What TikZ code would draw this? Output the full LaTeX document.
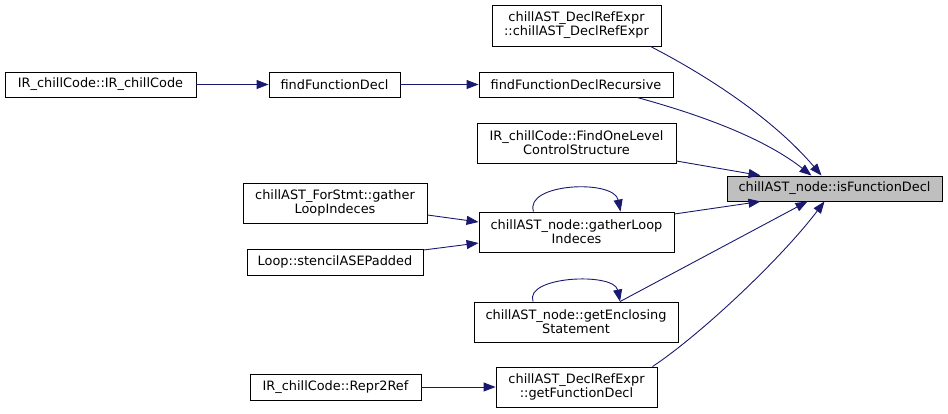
\documentclass[tikz,border=0pt]{standalone}
\usepackage{fontspec}
\setmainfont{DejaVu Sans}
\usetikzlibrary{arrows.meta}
\definecolor{edgec}{HTML}{191970}
\definecolor{hlfill}{HTML}{BFBFBF}
\begin{document}
\begin{tikzpicture}[x=1pt,y=-1pt,
  box/.style={draw=black, fill=white, line width=0.9pt, inner sep=0pt, align=center,
              font=\fontsize{12.9}{14}\selectfont},
  hl/.style={box, fill=hlfill},
  call/.style={draw=edgec, line width=0.9pt, -{Triangle[length=12pt,width=9pt]}}]
\useasboundingbox (0,0) rectangle (948,413);
\node[box, minimum width=191, minimum height=25] (irc) at (100.5,84.5) {IR\_chillCode::IR\_chillCode};
\node[box, minimum width=131, minimum height=25] (ffd) at (334.5,84.5) {findFunctionDecl};
\node[box, minimum width=169, minimum height=41] (dre) at (576.5,25.5) {chillAST\_DeclRefExpr\\::chillAST\_DeclRefExpr};
\node[box, minimum width=194, minimum height=25] (ffr) at (576,84.5) {findFunctionDeclRecursive};
\node[box, minimum width=199, minimum height=40] (fol) at (576.5,143) {IR\_chillCode::FindOneLevel\\ControlStructure};
\node[box, minimum width=184, minimum height=40] (fsg) at (335,203) {chillAST\_ForStmt::gather\\LoopIndeces};
\node[box, minimum width=176, minimum height=26] (lsp) at (335,262) {Loop::stencilASEPadded};
\node[box, minimum width=195, minimum height=40] (ngl) at (576.5,232) {chillAST\_node::gatherLoop\\Indeces};
\node[box, minimum width=204, minimum height=40] (nge) at (576,322) {chillAST\_node::getEnclosing\\Statement};
\node[box, minimum width=171, minimum height=26] (rrf) at (335.5,387) {IR\_chillCode::Repr2Ref};
\node[box, minimum width=161, minimum height=40] (dgf) at (576.5,387) {chillAST\_DeclRefExpr\\::getFunctionDecl};
\node[hl, minimum width=215, minimum height=25] (isf) at (834.5,188.5) {chillAST\_node::isFunctionDecl};

\draw[call] (irc) -- (ffd);
\draw[call] (ffd) -- (ffr);
\draw[call] (rrf) -- (dgf);
\draw[call] ([yshift=-12]fsg.east) -- ([yshift=10]ngl.west);
\draw[call] ([yshift=12]lsp.east) -- ([yshift=-11]ngl.west);

\draw[call] ([xshift=74]dre.south) .. controls (700,72) and (770,115) .. ([xshift=-13]isf.north);
\draw[call] ([xshift=61]ffr.south) .. controls (690,112) and (760,135) .. ([xshift=-23]isf.north);
\draw[call] ([yshift=-18]fol.east) -- ([xshift=-74]isf.north);
\draw[call] ([yshift=18]ngl.east) -- ([xshift=-74]isf.south);
\draw[call] ([xshift=44]nge.north) -- ([xshift=-27]isf.south);
\draw[call] ([xshift=76]dgf.north) .. controls (700,335) and (780,260) .. ([xshift=-10]isf.south);

\draw[call] ([xshift=-43]ngl.north) .. controls (524,183) and (614,179) .. ([xshift=44]ngl.north);
\draw[call] ([xshift=-43]nge.north) .. controls (524,276) and (614,272) .. ([xshift=44]nge.north);
\end{tikzpicture}
\end{document}
